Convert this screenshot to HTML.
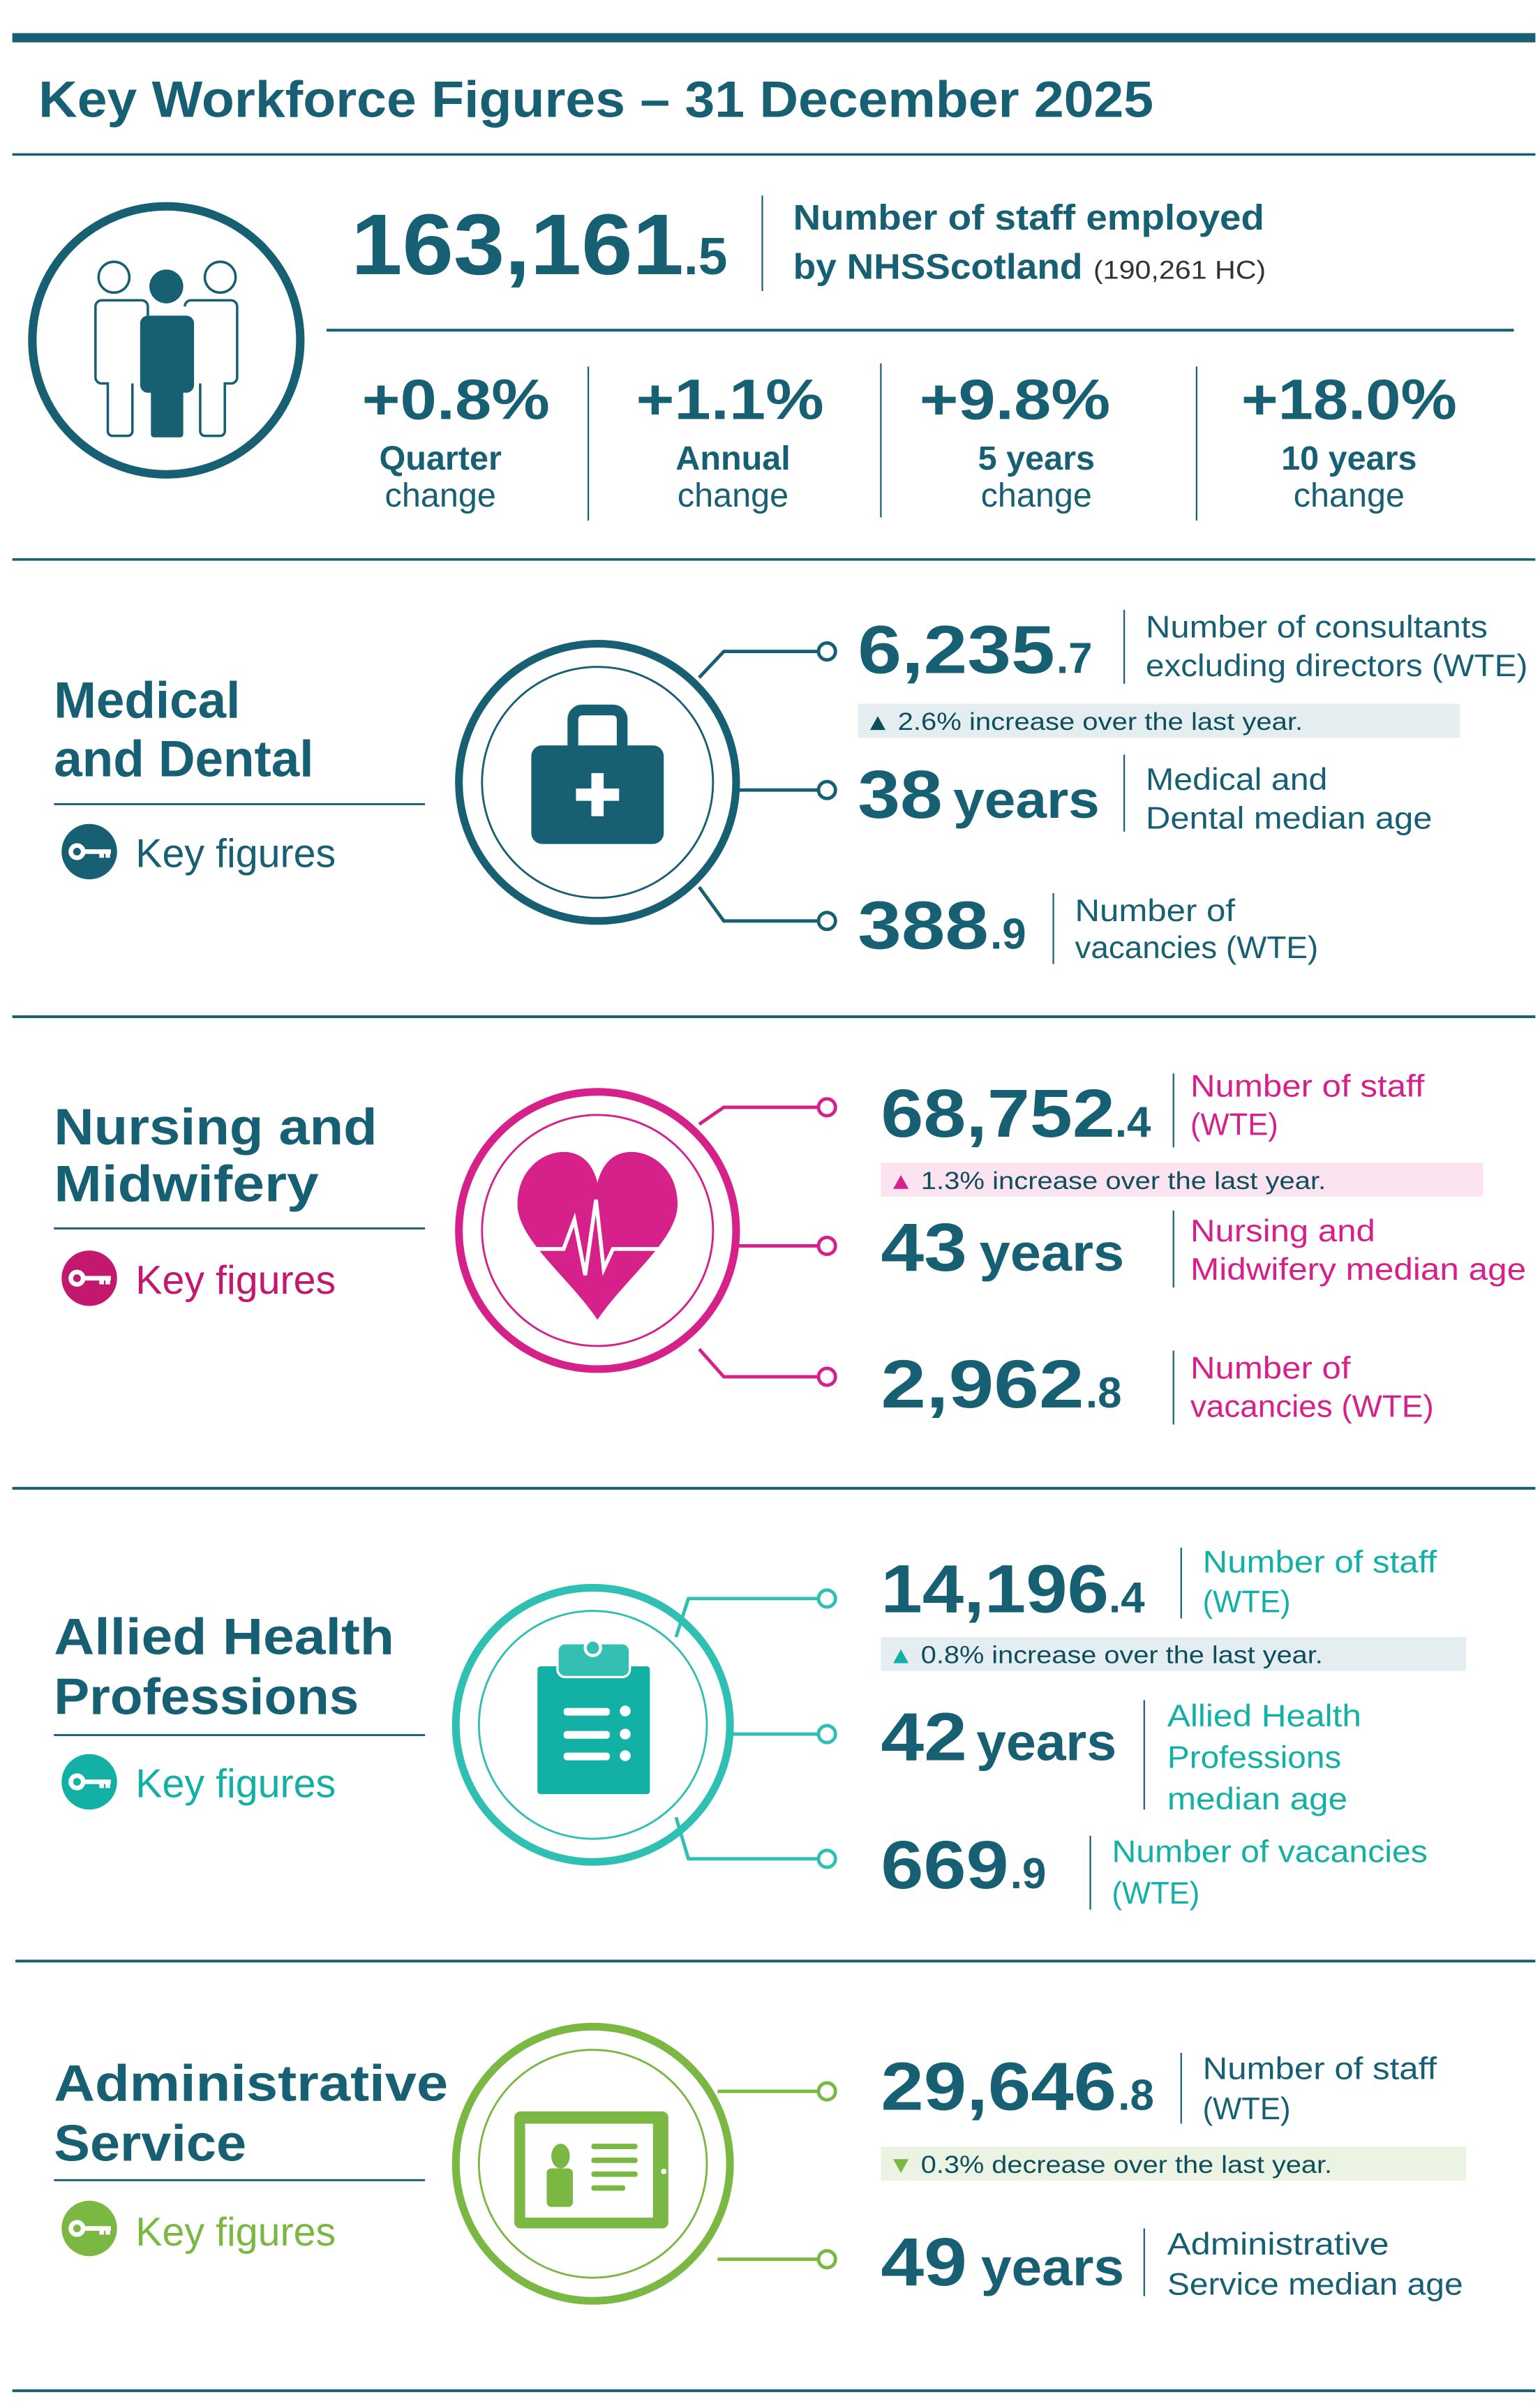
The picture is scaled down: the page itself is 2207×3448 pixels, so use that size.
<!DOCTYPE html>
<html><head><meta charset="utf-8"><style>
html,body{margin:0;padding:0;background:#fff;width:2207px;height:3448px;overflow:hidden}
svg{display:block}
text{font-family:"Liberation Sans",sans-serif}
.b{font-weight:bold}
</style></head><body>
<svg width="2207" height="3448" viewBox="0 0 1000 1562.3" xmlns="http://www.w3.org/2000/svg">
<rect width="1000" height="1563" fill="#fff"/>
<g fill="#175f72" stroke="none">
<rect x="8" y="21.5" width="989" height="6"/>
<rect x="8" y="99.5" width="989" height="1.6"/>
<rect x="212" y="213.5" width="771" height="1.8"/>
<rect x="8" y="362.5" width="989" height="1.6"/>
<rect x="8" y="659.3" width="989" height="1.8"/>
<rect x="8" y="965.5" width="989" height="1.8"/>
<rect x="10" y="1272.5" width="987" height="1.8"/>
<rect x="8" y="1551.5" width="989" height="1.8"/>
</g>
<text x="25" y="76" class="b" font-size="33" fill="#175f72" textLength="724" lengthAdjust="spacingAndGlyphs">Key Workforce Figures – 31 December 2025</text>

<!-- people circle -->
<circle cx="108" cy="221" r="87" fill="none" stroke="#175f72" stroke-width="5.5"/>
<g fill="none" stroke="#175f72" stroke-width="1.6">
<circle cx="81" cy="145" r="10" transform="translate(-7,35)"/>
<circle cx="150" cy="145" r="10" transform="translate(-7,35)"/>
<path d="M66 195 h26 a4 4 0 0 1 4 4 v46 M66 195 a4 4 0 0 0 -4 4 v46 a4 4 0 0 0 4 4 h4 v31 a3 3 0 0 0 3 3 h10 a3 3 0 0 0 3 -3 v-31"/>
<path d="M150 195 h-26 a4 4 0 0 0 -4 4 M150 195 a4 4 0 0 1 4 4 v46 a4 4 0 0 1 -4 4 h-4 v31 a3 3 0 0 1 -3 3 h-10 a3 3 0 0 1 -3 -3 v-31"/>
</g>
<g fill="#175f72">
<circle cx="108" cy="186" r="11"/>
<rect x="91" y="205" width="35" height="50" rx="5"/>
<rect x="98" y="245" width="21" height="39" rx="2"/>
</g>

<text x="228" y="178" class="b" font-size="56" fill="#175f72" textLength="216" lengthAdjust="spacingAndGlyphs">163,161</text>
<text x="444" y="178" class="b" font-size="34" fill="#175f72">.5</text>
<rect x="494.5" y="127" width="1" height="62" fill="#175f72"/>
<text x="515" y="149" class="b" font-size="23" fill="#175f72" textLength="306" lengthAdjust="spacingAndGlyphs">Number of staff employed</text>
<text x="515" y="181" class="b" font-size="23" fill="#175f72" textLength="188" lengthAdjust="spacingAndGlyphs">by NHSScotland</text>
<text x="710" y="181" font-size="17" fill="#333" textLength="112" lengthAdjust="spacingAndGlyphs">(190,261 HC)</text>

<g fill="#175f72" text-anchor="middle">
<text x="296" y="272" class="b" font-size="37" textLength="122" lengthAdjust="spacingAndGlyphs">+0.8%</text>
<text x="474" y="272" class="b" font-size="37" textLength="122" lengthAdjust="spacingAndGlyphs">+1.1%</text>
<text x="659" y="272" class="b" font-size="37" textLength="124" lengthAdjust="spacingAndGlyphs">+9.8%</text>
<text x="876" y="272" class="b" font-size="37" textLength="140" lengthAdjust="spacingAndGlyphs">+18.0%</text>
<text x="286" y="305" class="b" font-size="22">Quarter</text>
<text x="476" y="305" class="b" font-size="22">Annual</text>
<text x="673" y="305" class="b" font-size="22">5 years</text>
<text x="876" y="305" class="b" font-size="22">10 years</text>
<text x="286" y="329" font-size="22">change</text>
<text x="476" y="329" font-size="22">change</text>
<text x="673" y="329" font-size="22">change</text>
<text x="876" y="329" font-size="22">change</text>
</g>
<g fill="#175f72"><rect x="381.5" y="238" width="1" height="100"/><rect x="571.5" y="236" width="1" height="100"/><rect x="776.5" y="238" width="1" height="100"/></g>

<!-- ===== Section: Medical ===== -->
<g>
<text x="35" y="466" class="b" font-size="33" fill="#175f72">Medical</text>
<text x="35" y="504" class="b" font-size="33" fill="#175f72">and Dental</text>
<rect x="35" y="521.5" width="241" height="1.3" fill="#175f72"/>
<circle cx="58" cy="553" r="18" fill="#175f72"/>
<g fill="none" stroke="#fff" stroke-width="3"><circle cx="50" cy="553" r="4"/><path d="M54 553 h18 M66 553 v4 M70 553 v4"/></g>
<text x="88" y="563" font-size="26" fill="#175f72">Key figures</text>

<circle cx="388" cy="508" r="90" fill="none" stroke="#175f72" stroke-width="5"/>
<circle cx="388" cy="508" r="75" fill="none" stroke="#175f72" stroke-width="1.3"/>
<path d="M372 487 v-20 a6 6 0 0 1 6 -6 h20 a6 6 0 0 1 6 6 v20" fill="none" stroke="#175f72" stroke-width="7"/>
<rect x="345" y="484" width="86" height="64" rx="7" fill="#175f72"/>
<rect x="384" y="502" width="8" height="28" fill="#fff"/><rect x="374" y="512" width="28" height="8" fill="#fff"/>

<g fill="none" stroke="#175f72" stroke-width="2.2">
<polyline points="454,440 470,423 531,423"/><circle cx="537" cy="423" r="5.5" fill="#fff"/>
<polyline points="479,513 531,513"/><circle cx="537" cy="513" r="5.5" fill="#fff"/>
<polyline points="454,576 470,598 531,598"/><circle cx="537" cy="598" r="5.5" fill="#fff"/>
</g>
<text x="557" y="437" class="b" font-size="44" fill="#175f72" textLength="128" lengthAdjust="spacingAndGlyphs">6,235</text>
<text x="686" y="437" class="b" font-size="28" fill="#175f72">.7</text>
<rect x="729.5" y="396" width="1" height="48" fill="#175f72"/>
<text x="744" y="414" font-size="20" fill="#175f72" textLength="222" lengthAdjust="spacingAndGlyphs">Number of consultants</text>
<text x="744" y="439" font-size="20" fill="#175f72" textLength="248" lengthAdjust="spacingAndGlyphs">excluding directors (WTE)</text>
<rect x="557" y="457" width="391" height="22" fill="#e4edf0"/>
<path d="M565 474 l5 -9 l5 9z" fill="#0f4d5c"/>
<text x="583" y="474" font-size="16" fill="#0f4d5c" textLength="263" lengthAdjust="spacingAndGlyphs">2.6% increase over the last year.</text>
<text x="557" y="531" class="b" font-size="44" fill="#175f72" textLength="55" lengthAdjust="spacingAndGlyphs">38</text>
<text x="619" y="531" class="b" font-size="34" fill="#175f72" textLength="95" lengthAdjust="spacingAndGlyphs">years</text>
<rect x="729.5" y="490" width="1" height="50" fill="#175f72"/>
<text x="744" y="513" font-size="20" fill="#175f72" textLength="118" lengthAdjust="spacingAndGlyphs">Medical and</text>
<text x="744" y="538" font-size="20" fill="#175f72" textLength="186" lengthAdjust="spacingAndGlyphs">Dental median age</text>
<text x="557" y="616" class="b" font-size="44" fill="#175f72" textLength="85" lengthAdjust="spacingAndGlyphs">388</text>
<text x="643" y="616" class="b" font-size="28" fill="#175f72">.9</text>
<rect x="683.5" y="580" width="1" height="46" fill="#175f72"/>
<text x="698" y="598" font-size="20" fill="#175f72" textLength="104" lengthAdjust="spacingAndGlyphs">Number of</text>
<text x="698" y="622" font-size="20" fill="#175f72" textLength="158" lengthAdjust="spacingAndGlyphs">vacancies (WTE)</text>
</g>

<!-- ===== Section: Nursing ===== -->
<g>
<text x="35" y="743" class="b" font-size="33" fill="#175f72" textLength="210" lengthAdjust="spacingAndGlyphs">Nursing and</text>
<text x="35" y="780" class="b" font-size="33" fill="#175f72" textLength="172" lengthAdjust="spacingAndGlyphs">Midwifery</text>
<rect x="35" y="797" width="241" height="1.3" fill="#175f72"/>
<circle cx="58" cy="830" r="18" fill="#c2186e"/>
<g fill="none" stroke="#fff" stroke-width="3"><circle cx="50" cy="830" r="4"/><path d="M54 830 h18 M66 830 v4 M70 830 v4"/></g>
<text x="88" y="840" font-size="26" fill="#c2186e">Key figures</text>

<circle cx="388" cy="799" r="90" fill="none" stroke="#d6218a" stroke-width="5"/>
<circle cx="388" cy="799" r="75" fill="none" stroke="#d6218a" stroke-width="1.3"/>
<path d="M388 857 C370 830 336 805 336 782 C336 760 352 748 366 748 C378 748 385 756 388 768 C391 756 398 748 410 748 C424 748 440 760 440 782 C440 805 406 830 388 857 Z" fill="#d6218a"/>
<polyline points="339,811 366,811 373,792 380,828 387,779 392,824 398,811 437,811" fill="none" stroke="#fff" stroke-width="2.5"/>
<g fill="none" stroke="#d6218a" stroke-width="2.2">
<polyline points="454,730 470,719 531,719"/><circle cx="537" cy="719" r="5.5" fill="#fff"/>
<polyline points="479,809 531,809"/><circle cx="537" cy="809" r="5.5" fill="#fff"/>
<polyline points="454,876 470,894 531,894"/><circle cx="537" cy="894" r="5.5" fill="#fff"/>
</g>
<text x="572" y="738" class="b" font-size="44" fill="#175f72" textLength="152" lengthAdjust="spacingAndGlyphs">68,752</text>
<text x="724" y="738" class="b" font-size="28" fill="#175f72">.4</text>
<rect x="761.5" y="697" width="1" height="48" fill="#175f72"/>
<text x="773" y="712" font-size="20" fill="#d6218a" textLength="152" lengthAdjust="spacingAndGlyphs">Number of staff</text>
<text x="773" y="737" font-size="20" fill="#d6218a" textLength="57" lengthAdjust="spacingAndGlyphs">(WTE)</text>
<rect x="572" y="755" width="391" height="22" fill="#fbe4f0"/>
<path d="M580 772 l5 -9 l5 9z" fill="#d6218a"/>
<text x="598" y="772" font-size="16" fill="#0f4d5c" textLength="263" lengthAdjust="spacingAndGlyphs">1.3% increase over the last year.</text>
<text x="572" y="825" class="b" font-size="44" fill="#175f72" textLength="56" lengthAdjust="spacingAndGlyphs">43</text>
<text x="636" y="825" class="b" font-size="34" fill="#175f72" textLength="94" lengthAdjust="spacingAndGlyphs">years</text>
<rect x="761.5" y="786" width="1" height="50" fill="#175f72"/>
<text x="773" y="806" font-size="20" fill="#d6218a" textLength="120" lengthAdjust="spacingAndGlyphs">Nursing and</text>
<text x="773" y="831" font-size="20" fill="#d6218a" textLength="218" lengthAdjust="spacingAndGlyphs">Midwifery median age</text>
<text x="572" y="914" class="b" font-size="44" fill="#175f72" textLength="132" lengthAdjust="spacingAndGlyphs">2,962</text>
<text x="705" y="914" class="b" font-size="28" fill="#175f72">.8</text>
<rect x="761.5" y="877" width="1" height="48" fill="#175f72"/>
<text x="773" y="895" font-size="20" fill="#d6218a" textLength="104" lengthAdjust="spacingAndGlyphs">Number of</text>
<text x="773" y="920" font-size="20" fill="#d6218a" textLength="158" lengthAdjust="spacingAndGlyphs">vacancies (WTE)</text>
</g>

<!-- ===== Section: Allied ===== -->
<g>
<text x="35" y="1074" class="b" font-size="33" fill="#175f72" textLength="221" lengthAdjust="spacingAndGlyphs">Allied Health</text>
<text x="35" y="1113" class="b" font-size="33" fill="#175f72" textLength="198" lengthAdjust="spacingAndGlyphs">Professions</text>
<rect x="35" y="1126" width="241" height="1.3" fill="#175f72"/>
<circle cx="58" cy="1157" r="18" fill="#13b0a5"/>
<g fill="none" stroke="#fff" stroke-width="3"><circle cx="50" cy="1157" r="4"/><path d="M54 1157 h18 M66 1157 v4 M70 1157 v4"/></g>
<text x="88" y="1167" font-size="26" fill="#13b0a5">Key figures</text>

<circle cx="385" cy="1120" r="89" fill="none" stroke="#2fbfb3" stroke-width="5"/>
<circle cx="385" cy="1120" r="74" fill="none" stroke="#2fbfb3" stroke-width="1.3"/>
<rect x="349" y="1082" width="73" height="83" rx="2" fill="#13b0a5"/>
<rect x="362" y="1067" width="47" height="22" rx="5" fill="#33c0b3" stroke="#fff" stroke-width="1.5"/>
<circle cx="385" cy="1070" r="5" fill="#33c0b3" stroke="#fff" stroke-width="2"/>
<g fill="#fff"><rect x="366" y="1109" width="30" height="5" rx="2"/><rect x="366" y="1124" width="30" height="5" rx="2"/><rect x="366" y="1138" width="30" height="5" rx="2"/>
<circle cx="406" cy="1111" r="3.5"/><circle cx="406" cy="1126" r="3.5"/><circle cx="406" cy="1140" r="3.5"/></g>
<g fill="none" stroke="#2fbfb3" stroke-width="2.2">
<polyline points="439,1063 447,1038 531,1038"/><circle cx="537" cy="1038" r="5.5" fill="#fff"/>
<polyline points="474,1126 531,1126"/><circle cx="537" cy="1126" r="5.5" fill="#fff"/>
<polyline points="439,1180 447,1207 531,1207"/><circle cx="537" cy="1207" r="5.5" fill="#fff"/>
</g>
<text x="572" y="1047" class="b" font-size="44" fill="#175f72" textLength="148" lengthAdjust="spacingAndGlyphs">14,196</text>
<text x="720" y="1047" class="b" font-size="28" fill="#175f72">.4</text>
<rect x="766.5" y="1005" width="1" height="46" fill="#175f72"/>
<text x="781" y="1021" font-size="20" fill="#13b0a5" textLength="152" lengthAdjust="spacingAndGlyphs">Number of staff</text>
<text x="781" y="1047" font-size="20" fill="#13b0a5" textLength="57" lengthAdjust="spacingAndGlyphs">(WTE)</text>
<rect x="572" y="1063" width="380" height="22" fill="#e4edf0"/>
<path d="M580 1080 l5 -9 l5 9z" fill="#13b0a5"/>
<text x="598" y="1080" font-size="16" fill="#0f4d5c" textLength="261" lengthAdjust="spacingAndGlyphs">0.8% increase over the last year.</text>
<text x="572" y="1143" class="b" font-size="44" fill="#175f72" textLength="56" lengthAdjust="spacingAndGlyphs">42</text>
<text x="634" y="1143" class="b" font-size="34" fill="#175f72" textLength="91" lengthAdjust="spacingAndGlyphs">years</text>
<rect x="742.5" y="1104" width="1" height="71" fill="#175f72"/>
<text x="758" y="1121" font-size="20" fill="#13b0a5" textLength="126" lengthAdjust="spacingAndGlyphs">Allied Health</text>
<text x="758" y="1148" font-size="20" fill="#13b0a5" textLength="113" lengthAdjust="spacingAndGlyphs">Professions</text>
<text x="758" y="1175" font-size="20" fill="#13b0a5" textLength="117" lengthAdjust="spacingAndGlyphs">median age</text>
<text x="572" y="1226" class="b" font-size="44" fill="#175f72" textLength="83" lengthAdjust="spacingAndGlyphs">669</text>
<text x="656" y="1226" class="b" font-size="28" fill="#175f72">.9</text>
<rect x="707.5" y="1192" width="1" height="48" fill="#175f72"/>
<text x="722" y="1209" font-size="20" fill="#13b0a5" textLength="205" lengthAdjust="spacingAndGlyphs">Number of vacancies</text>
<text x="722" y="1236" font-size="20" fill="#13b0a5" textLength="57" lengthAdjust="spacingAndGlyphs">(WTE)</text>
</g>

<!-- ===== Section: Admin ===== -->
<g>
<text x="35" y="1364" class="b" font-size="33" fill="#175f72" textLength="256" lengthAdjust="spacingAndGlyphs">Administrative</text>
<text x="35" y="1403" class="b" font-size="33" fill="#175f72" textLength="125" lengthAdjust="spacingAndGlyphs">Service</text>
<rect x="35" y="1415" width="241" height="1.3" fill="#175f72"/>
<circle cx="58" cy="1447" r="18" fill="#7ab843"/>
<g fill="none" stroke="#fff" stroke-width="3"><circle cx="50" cy="1447" r="4"/><path d="M54 1447 h18 M66 1447 v4 M70 1447 v4"/></g>
<text x="88" y="1458" font-size="26" fill="#7ab843">Key figures</text>

<circle cx="385" cy="1405" r="89" fill="none" stroke="#7ab843" stroke-width="5"/>
<circle cx="385" cy="1405" r="74" fill="none" stroke="#7ab843" stroke-width="1.3"/>
<rect x="334" y="1371" width="100" height="76" rx="4" fill="#7ab843"/>
<rect x="341" y="1379" width="83" height="61" fill="#fff"/>
<circle cx="431" cy="1410" r="1.8" fill="#fff"/>
<g fill="#7ab843"><ellipse cx="364" cy="1400" rx="6" ry="8"/><rect x="355" y="1408" width="17" height="25" rx="3"/>
<rect x="384" y="1392" width="30" height="3.5" rx="1.5"/><rect x="384" y="1401" width="30" height="3.5" rx="1.5"/><rect x="384" y="1410" width="30" height="3.5" rx="1.5"/><rect x="384" y="1419" width="22" height="3.5" rx="1.5"/></g>
<g fill="none" stroke="#7ab843" stroke-width="2.2">
<polyline points="466,1358 531,1358"/><circle cx="537" cy="1358" r="5.5" fill="#fff"/>
<polyline points="466,1467 531,1467"/><circle cx="537" cy="1467" r="5.5" fill="#fff"/>
</g>
<text x="572" y="1370" class="b" font-size="44" fill="#175f72" textLength="153" lengthAdjust="spacingAndGlyphs">29,646</text>
<text x="726" y="1370" class="b" font-size="28" fill="#175f72">.8</text>
<rect x="766.5" y="1333" width="1" height="46" fill="#175f72"/>
<text x="781" y="1350" font-size="20" fill="#175f72" textLength="152" lengthAdjust="spacingAndGlyphs">Number of staff</text>
<text x="781" y="1376" font-size="20" fill="#175f72" textLength="57" lengthAdjust="spacingAndGlyphs">(WTE)</text>
<rect x="572" y="1394" width="380" height="22" fill="#ebf4e2"/>
<path d="M580 1402 l5 9 l5 -9z" fill="#7ab843"/>
<text x="598" y="1411" font-size="16" fill="#0f4d5c" textLength="267" lengthAdjust="spacingAndGlyphs">0.3% decrease over the last year.</text>
<text x="572" y="1484" class="b" font-size="44" fill="#175f72" textLength="56" lengthAdjust="spacingAndGlyphs">49</text>
<text x="637" y="1484" class="b" font-size="34" fill="#175f72" textLength="93" lengthAdjust="spacingAndGlyphs">years</text>
<rect x="742.5" y="1447" width="1" height="44" fill="#175f72"/>
<text x="758" y="1464" font-size="20" fill="#175f72" textLength="144" lengthAdjust="spacingAndGlyphs">Administrative</text>
<text x="758" y="1490" font-size="20" fill="#175f72" textLength="192" lengthAdjust="spacingAndGlyphs">Service median age</text>
</g>
</svg>
</body></html>
